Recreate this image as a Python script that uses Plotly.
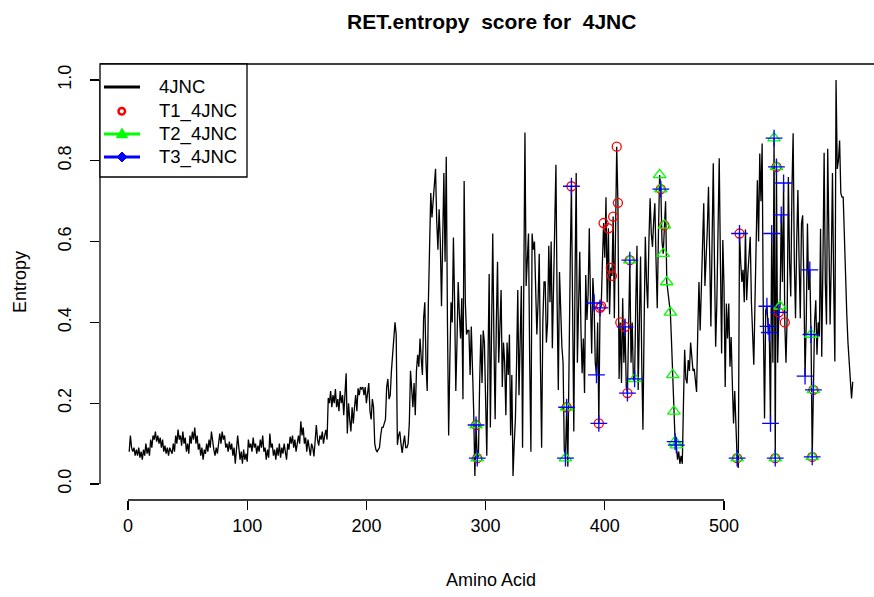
import plotly.graph_objects as go

# ---------------- data ----------------
entropy = [
    # 1-20
    0.08, 0.12, 0.09, 0.08, 0.09, 0.07, 0.085, 0.07, 0.09, 0.065,
    0.08, 0.06, 0.085, 0.07, 0.10, 0.075, 0.09, 0.07, 0.11, 0.09,
    # 21-40
    0.12, 0.11, 0.13, 0.105, 0.12, 0.10, 0.115, 0.09, 0.11, 0.08,
    0.095, 0.075, 0.09, 0.07, 0.09, 0.08, 0.075, 0.10, 0.08, 0.12,
    # 41-60
    0.10, 0.135, 0.11, 0.12, 0.095, 0.13, 0.10, 0.115, 0.08, 0.10,
    0.075, 0.12, 0.10, 0.13, 0.11, 0.14, 0.10, 0.12, 0.085, 0.10,
    # 61-80
    0.07, 0.09, 0.06, 0.085, 0.075, 0.10, 0.08, 0.11, 0.09, 0.13,
    0.10, 0.085, 0.07, 0.09, 0.075, 0.10, 0.125, 0.10, 0.13, 0.11,
    # 81-100
    0.12, 0.09, 0.10, 0.08, 0.105, 0.085, 0.10, 0.07, 0.09, 0.05,
    0.08, 0.12, 0.09, 0.06, 0.08, 0.05, 0.085, 0.06, 0.075, 0.055,
    # 101-120
    0.11, 0.09, 0.10, 0.08, 0.115, 0.09, 0.10, 0.075, 0.095, 0.08,
    0.11, 0.09, 0.12, 0.08, 0.09, 0.06, 0.085, 0.065, 0.125, 0.09,
    # 121-140
    0.10, 0.07, 0.085, 0.06, 0.09, 0.07, 0.10, 0.065, 0.09, 0.075,
    0.10, 0.08, 0.06, 0.10, 0.085, 0.117, 0.10, 0.12, 0.09, 0.11,
    # 141-160
    0.08, 0.10, 0.12, 0.10, 0.155, 0.12, 0.14, 0.10, 0.115, 0.08,
    0.11, 0.09, 0.07, 0.10, 0.09, 0.068, 0.10, 0.146, 0.11, 0.095,
    # 161-180
    0.12, 0.11, 0.13, 0.10, 0.12, 0.134, 0.11, 0.213, 0.20, 0.23,
    0.19, 0.22, 0.20, 0.235, 0.19, 0.21, 0.18, 0.23, 0.20, 0.22,
    # 181-200
    0.17, 0.21, 0.274, 0.125, 0.20, 0.16, 0.13, 0.19, 0.15, 0.19,
    0.22, 0.18, 0.237, 0.22, 0.24, 0.235, 0.24, 0.22, 0.24, 0.20,
    # 201-220
    0.22, 0.25, 0.18, 0.16, 0.21, 0.19, 0.10, 0.085, 0.08, 0.085,
    0.09, 0.12, 0.14, 0.14, 0.15, 0.16, 0.24, 0.26, 0.21, 0.22,
    # 221-240
    0.28, 0.33, 0.38, 0.40, 0.37, 0.097, 0.12, 0.13, 0.10, 0.077,
    0.10, 0.12, 0.09, 0.09, 0.10, 0.15, 0.28, 0.22, 0.19, 0.25,
    # 241-260
    0.17, 0.28, 0.32, 0.29, 0.36, 0.31, 0.27, 0.41, 0.45, 0.30,
    0.23, 0.45, 0.60, 0.72, 0.66, 0.70, 0.74, 0.78, 0.65, 0.58,
    # 261-280
    0.68, 0.60, 0.44, 0.62, 0.77, 0.55, 0.81, 0.40, 0.12, 0.30,
    0.45, 0.40, 0.61, 0.45, 0.23, 0.35, 0.50, 0.42, 0.36, 0.46,
    # 281-300
    0.21, 0.75, 0.45, 0.37, 0.38, 0.38, 0.27, 0.39, 0.30, 0.18,
    0.02, 0.146, 0.064, 0.07, 0.25, 0.37, 0.25, 0.38, 0.35, 0.20,
    # 301-320
    0.07, 0.30, 0.52, 0.14, 0.40, 0.62, 0.35, 0.16, 0.40, 0.55,
    0.30, 0.42, 0.48, 0.24, 0.35, 0.30, 0.17, 0.35, 0.27, 0.37,
    # 321-340
    0.12, 0.27, 0.02, 0.10, 0.16, 0.30, 0.48, 0.22, 0.35, 0.49,
    0.09, 0.45, 0.87, 0.49, 0.55, 0.62, 0.30, 0.08, 0.62, 0.58,
    # 341-360
    0.60, 0.50, 0.37, 0.45, 0.57, 0.30, 0.09, 0.40, 0.50, 0.50,
    0.35, 0.40, 0.59, 0.45, 0.60, 0.336, 0.50, 0.62, 0.79, 0.45,
    # 361-380
    0.233, 0.525, 0.40, 0.34, 0.30, 0.084, 0.064, 0.19, 0.043, 0.40,
    0.55, 0.737, 0.35, 0.13, 0.50, 0.77, 0.30, 0.42, 0.575, 0.38,
    # 381-400
    0.274, 0.36, 0.225, 0.517, 0.406, 0.47, 0.633, 0.45, 0.323, 0.51,
    0.448, 0.30, 0.27, 0.40, 0.15, 0.436, 0.44, 0.55, 0.646, 0.56,
    # 401-420
    0.71, 0.45, 0.633, 0.42, 0.535, 0.515, 0.662, 0.41, 0.60, 0.835,
    0.696, 0.26, 0.40, 0.25, 0.46, 0.30, 0.389, 0.24, 0.225, 0.45,
    # 421-440
    0.554, 0.30, 0.40, 0.257, 0.26, 0.45, 0.59, 0.233, 0.40, 0.563,
    0.30, 0.134, 0.40, 0.612, 0.50, 0.435, 0.60, 0.707, 0.62, 0.587,
    # 441-460
    0.65, 0.695, 0.55, 0.435, 0.62, 0.765, 0.73, 0.60, 0.57, 0.64,
    0.70, 0.50, 0.47, 0.45, 0.425, 0.35, 0.27, 0.18, 0.105, 0.096,
    # 461-480
    0.06, 0.08, 0.05, 0.07, 0.05, 0.20, 0.332, 0.26, 0.249, 0.307,
    0.28, 0.35, 0.32, 0.28, 0.285, 0.25, 0.228, 0.38, 0.50, 0.38,
    # 481-500
    0.50, 0.60, 0.695, 0.49, 0.55, 0.63, 0.736, 0.49, 0.39, 0.60,
    0.794, 0.55, 0.34, 0.45, 0.60, 0.806, 0.55, 0.323, 0.604, 0.49,
    # 501-520
    0.24, 0.447, 0.36, 0.447, 0.29, 0.364, 0.25, 0.15, 0.23, 0.15,
    0.064, 0.04, 0.62, 0.55, 0.50, 0.53, 0.45, 0.63, 0.455, 0.52,
    # 521-540
    0.58, 0.612, 0.45, 0.38, 0.295, 0.45, 0.60, 0.752, 0.60, 0.818,
    0.70, 0.843, 0.40, 0.162, 0.43, 0.44, 0.39, 0.375, 0.15, 0.62,
    # 541-560
    0.30, 0.856, 0.064, 0.785, 0.30, 0.425, 0.44, 0.666, 0.50, 0.745,
    0.40, 0.30, 0.418, 0.76, 0.55, 0.464, 0.73, 0.868, 0.55, 0.41,
    # 561-580
    0.60, 0.728, 0.55, 0.41, 0.645, 0.665, 0.50, 0.267, 0.40, 0.645,
    0.48, 0.53, 0.37, 0.067, 0.233, 0.40, 0.455, 0.32, 0.40, 0.365,
    # 581-600
    0.632, 0.315, 0.55, 0.82, 0.50, 0.395, 0.83, 0.60, 0.395, 0.55,
    0.77, 0.50, 0.303, 1.00, 0.78, 0.80, 0.85, 0.72, 0.71, 0.71,
    # 601-608
    0.60, 0.50, 0.42, 0.35, 0.30, 0.25, 0.212, 0.253,
]
residue = list(range(1, len(entropy) + 1))

# residue positions of the three marker sets
t1_pos = [292, 293, 368, 372, 395, 396, 397, 399, 403, 405, 406, 407, 410, 411,
          413, 417, 419, 421, 447, 450, 511, 513, 543, 544, 546, 551, 574, 575]
t2_pos = [292, 293, 367, 368, 421, 425, 446, 447, 449, 450, 452, 455, 457, 458,
          459, 460, 511, 542, 543, 544, 547, 573, 574, 575]
t3_pos = [292, 293, 367, 368, 372, 391, 393, 395, 396, 417, 419, 421, 425, 447,
          459, 460, 511, 513, 536, 537, 538, 539, 540, 542, 543, 544, 546, 548,
          550, 568, 572, 573, 574, 575]

series_names = ["4JNC", "T1_4JNC", "T2_4JNC", "T3_4JNC"]
series_colors = ["black", "#FF0000", "#00FF00", "#0000FF"]
x_ticks = [0, 100, 200, 300, 400, 500]
y_ticks = [0.0, 0.2, 0.4, 0.6, 0.8, 1.0]
y_ticktext = ["0.0", "0.2", "0.4", "0.6", "0.8", "1.0"]
title_text = "RET.entropy  score for  4JNC"
x_title = "Amino Acid"
y_title = "Entropy"

# ---------------- figure ----------------
FONT = "Liberation Sans, Arial, Helvetica, sans-serif"
W, H = 874, 597
ML, MT, MB = 100, 64, 97
PLOT_W = W - ML
PLOT_H = H - MT - MB

fig = go.Figure()
fig.add_trace(go.Scatter(x=residue, y=entropy, mode="lines",
                         line=dict(color=series_colors[0], width=1.3),
                         name=series_names[0], showlegend=False))

def pick(pos):
    return [entropy[p - 1] for p in pos]

fig.add_trace(go.Scatter(x=t1_pos, y=pick(t1_pos), mode="markers",
                         marker=dict(symbol="circle-open", size=9, color=series_colors[1],
                                     line=dict(color=series_colors[1], width=1.3)),
                         name=series_names[1], showlegend=False))
fig.add_trace(go.Scatter(x=t2_pos, y=pick(t2_pos), mode="markers",
                         marker=dict(symbol="triangle-up-open", size=11, color=series_colors[2],
                                     line=dict(color=series_colors[2], width=1.3)),
                         name=series_names[2], showlegend=False))
fig.add_trace(go.Scatter(x=t3_pos, y=pick(t3_pos), mode="markers",
                         marker=dict(symbol="cross-thin-open", size=12, color=series_colors[3],
                                     line=dict(color=series_colors[3], width=1.3)),
                         name=series_names[3], showlegend=False))

# x range so that x=0 sits at 128px and 1 unit = 1.192px (right edge cut by window)
px_per_unit = 1.192
x0 = -(128 - ML) / px_per_unit
x1 = x0 + PLOT_W / px_per_unit
y_pad = 16 / 404.0

fig.update_layout(
    width=W, height=H,
    margin=dict(l=ML, r=0, t=MT, b=MB, pad=0),
    paper_bgcolor="white", plot_bgcolor="white",
    font=dict(family=FONT, size=18, color="black"),
    showlegend=False,
    xaxis=dict(range=[x0, x1], tickvals=x_ticks, ticks="outside", ticklen=9,
               tickwidth=1.3, tickcolor="black", showgrid=False, zeroline=False,
               showline=False, tickfont=dict(size=18)),
    yaxis=dict(range=[-y_pad, 1 + y_pad], tickvals=y_ticks, ticktext=y_ticktext,
               ticks="outside", ticklen=9, tickwidth=1.3, tickcolor="black",
               showgrid=False, zeroline=False, showline=False, tickangle=-90,
               ticklabelstandoff=12, tickfont=dict(size=18)),
)

shapes = []
# box top edge across the whole plot width
shapes.append(dict(type="line", xref="paper", yref="paper", x0=0, x1=1, y0=1, y1=1,
                   line=dict(color="black", width=1.3)))
# x axis line between first and last tick
shapes.append(dict(type="line", xref="x", yref="paper", x0=x_ticks[0], x1=x_ticks[-1],
                   y0=0, y1=0, line=dict(color="black", width=1.3)))
# y axis line between first and last tick
shapes.append(dict(type="line", xref="paper", yref="y", x0=0, x1=0,
                   y0=y_ticks[0], y1=y_ticks[-1], line=dict(color="black", width=1.3)))

# legend (drawn like R's legend box)
def px_x(px):
    return (px - ML) / PLOT_W

def px_y(py):
    return (MT + PLOT_H - py) / PLOT_H

shapes.append(dict(type="rect", xref="paper", yref="paper",
                   x0=px_x(100), x1=px_x(247), y0=px_y(177), y1=px_y(64),
                   line=dict(color="black", width=1.3), fillcolor="white"))
rows = [87, 111, 134, 157]
for i, py in enumerate(rows):
    if i != 1:
        shapes.append(dict(type="line", xref="paper", yref="paper",
                           x0=px_x(104), x1=px_x(140), y0=px_y(py), y1=px_y(py),
                           line=dict(color=series_colors[i], width=3)))
# T1 ring
shapes.append(dict(type="circle", xref="paper", yref="paper",
                   x0=px_x(118.5), x1=px_x(125), y0=px_y(114.5), y1=px_y(108),
                   line=dict(color=series_colors[1], width=2.5)))
# T2 triangle
cx, cy = 122, 134
shapes.append(dict(type="path", xref="paper", yref="paper",
                   path=f"M {px_x(cx-5)} {px_y(cy+3.5)} L {px_x(cx+5)} {px_y(cy+3.5)} L {px_x(cx)} {px_y(cy-5)} Z",
                   line=dict(color=series_colors[2], width=1.5), fillcolor=series_colors[2]))
# T3 diamond
cx, cy = 122, 157
shapes.append(dict(type="path", xref="paper", yref="paper",
                   path=f"M {px_x(cx-5)} {px_y(cy)} L {px_x(cx)} {px_y(cy-5)} L {px_x(cx+5)} {px_y(cy)} L {px_x(cx)} {px_y(cy+5)} Z",
                   line=dict(color=series_colors[3], width=1), fillcolor=series_colors[3]))
fig.update_layout(shapes=shapes)

ann = []
for i, py in enumerate(rows):
    ann.append(dict(xref="paper", yref="paper", x=px_x(157), y=px_y(py),
                    xanchor="left", yanchor="middle", text=series_names[i],
                    showarrow=False, font=dict(size=18.5, family=FONT)))
center_x = px_x(491)
ann.append(dict(xref="paper", yref="paper", x=center_x, y=px_y(21), xanchor="center",
                yanchor="middle", text="<b>" + title_text + "</b>", showarrow=False,
                font=dict(size=21, family=FONT)))
ann.append(dict(xref="paper", yref="paper", x=center_x, y=px_y(580), xanchor="center",
                yanchor="middle", text=x_title, showarrow=False,
                font=dict(size=18, family=FONT)))
ann.append(dict(xref="paper", yref="paper", x=px_x(20), y=px_y(282), xanchor="center",
                yanchor="middle", text=y_title, textangle=-90, showarrow=False,
                font=dict(size=18, family=FONT)))
fig.update_layout(annotations=ann)

fig.write_html("out.html",
               config={"displayModeBar": False, "staticPlot": True},
               post_script="document.body.style.margin='0';"
                           "document.body.style.overflow='hidden';")
